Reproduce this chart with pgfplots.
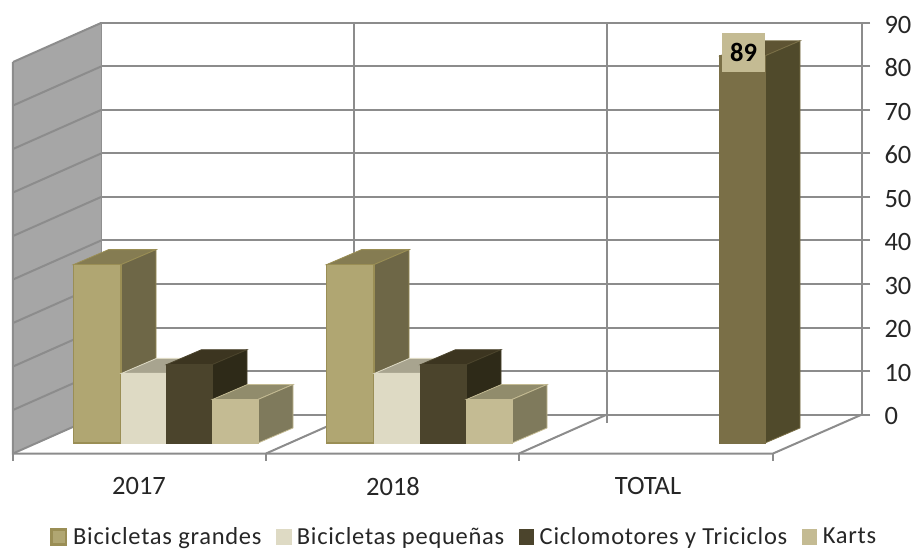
\documentclass[border=0pt]{standalone}
\usepackage{fontspec}
\setmainfont{Carlito}
\newfontfamily\legfont[LetterSpace=3]{Carlito}
\usepackage{pgfplots}
\pgfplotsset{compat=1.18}
\definecolor{gridc}{HTML}{8C8C8C}
\definecolor{wallc}{HTML}{A6A6A6}
\definecolor{txt}{HTML}{262626}
\definecolor{aF}{HTML}{B0A672}\definecolor{aS}{HTML}{6E6747}\definecolor{aT}{HTML}{857C52}\definecolor{aE}{HTML}{9A8E55}
\definecolor{tF}{HTML}{7A6F47}\definecolor{tS}{HTML}{504A2B}\definecolor{tT}{HTML}{5E5433}
\definecolor{bF}{HTML}{DEDAC4}\definecolor{bS}{HTML}{A8A48F}
\definecolor{cF}{HTML}{4B442C}\definecolor{cS}{HTML}{2E2A18}\definecolor{cT}{HTML}{3C3520}
\definecolor{dF}{HTML}{C4BB93}\definecolor{dS}{HTML}{7F7A5C}\definecolor{dT}{HTML}{918C6C}
% bar: x1, x2, value, front, side, top, edge
\newcommand{\barbox}[7]{%
  \pgfmathsetmacro{\yf}{#3-6.55}%
  \pgfmathsetmacro{\yb}{#3-6.55+3.45}%
  \pgfmathsetmacro{\xa}{#1+35}%
  \pgfmathsetmacro{\xb}{#2+35}%
  \pgfmathsetmacro{\yz}{-6.55+3.45}%
  \addplot[forget plot,fill=#6,draw=#7,line width=0.8pt] coordinates {(#1,\yf) (#2,\yf) (\xb,\yb) (\xa,\yb)} --cycle;
  \addplot[forget plot,fill=#5,draw=#7,line width=0.8pt] coordinates {(#2,-6.55) (\xb,\yz) (\xb,\yb) (#2,\yf)} --cycle;
  \addplot[forget plot,fill=#4,draw=#7,line width=1.2pt] coordinates {(#1,-6.55) (#2,-6.55) (#2,\yf) (#1,\yf)} --cycle;
}
\begin{document}
\begin{tikzpicture}
\path[use as bounding box] (0,0) rectangle (915pt,549pt);
\begin{axis}[
  at={(101pt,134.5pt)}, anchor=south west,
  scale only axis, width=761pt, height=391.5pt,
  xmin=101, xmax=862, ymin=0, ymax=90,
  clip=false,
  ytick={0,10,...,90}, xtick={354,607}, xticklabels={},
  ytick pos=right, xtick pos=bottom,
  ymajorgrids, xmajorgrids,
  grid style={gridc,line width=2pt},
  major grid style={gridc,line width=2pt},
  axis line style={gridc,line width=2pt},
  tick style={gridc,line width=2pt},
  major tick length=8pt, tick align=outside,
  /pgf/number format/assume math mode=true,
  yticklabel style={font=\fontsize{26.5}{28}\selectfont,text=txt,xshift=11pt,yshift=-1.5pt},
  legend columns=4,
  legend style={at={(axis cs:50,-28.05)},anchor=west,draw=none,fill=none,inner sep=0pt,
    font=\legfont\fontsize{24.5}{27}\selectfont,text=txt,
    /tikz/every even column/.append style={column sep=12.5pt},
    /tikz/every odd column/.append style={column sep=4pt}},
  legend image code/.code={\draw[#1] (0pt,-8pt) rectangle (14.5pt,7pt);},
]
% walls and floor
\addplot[forget plot,fill=wallc,draw=none] coordinates {(13,-8.97) (13,81.03) (101,90) (101,0)} --cycle;
\pgfplotsinvokeforeach{0,10,...,90}{
  \draw[gridc,line width=2pt] (axis cs:13,{#1-8.97}) -- (axis cs:101,#1);
}
\draw[gridc,line width=2pt] (axis cs:13,81.03) -- (axis cs:13,-8.97) -- (axis cs:773,-8.97) -- (axis cs:862,0);
\draw[gridc,line width=2pt] (axis cs:266,-8.97) -- (axis cs:354,0);
\draw[gridc,line width=2pt] (axis cs:519,-8.97) -- (axis cs:607,0);
\pgfplotsinvokeforeach{13,266,519,773}{
  \draw[gridc,line width=2pt] (axis cs:#1,-8.97) -- (axis cs:#1,-10.7);
}
% Series 1: Bicicletas grandes
\barbox{73.5}{121}{41}{aF}{aS}{aT}{aE}
\barbox{326.5}{374}{41}{aF}{aS}{aT}{aE}
\barbox{720}{765}{89}{tF}{tS}{tT}{tF}
% Series 2: Bicicletas pequeñas
\barbox{121.5}{166}{16}{bF}{bS}{bS}{bF}
\barbox{374.5}{420}{16}{bF}{bS}{bS}{bF}
% Series 3: Ciclomotores y Triciclos
\barbox{166.5}{212}{18}{cF}{cS}{cT}{cF}
\barbox{420.5}{466}{18}{cF}{cS}{cT}{cF}
% Series 4: Karts
\barbox{212.5}{258}{10}{dF}{dS}{dT}{dF}
\barbox{466.5}{512}{10}{dF}{dS}{dT}{dF}
% data label
\node[fill=dF,minimum width=43pt,minimum height=39pt,inner sep=0pt,font=\bfseries\fontsize{26.5}{28}\selectfont,text=black]
  at (axis cs:743.5,83.2) {89};
% category labels
\node[text=txt,font=\fontsize{26.5}{28}\selectfont] at (axis cs:139,-16.5) {2017};
\node[text=txt,font=\fontsize{26.5}{28}\selectfont] at (axis cs:393,-16.5) {2018};
\node[text=txt,font=\fontsize{26.5}{28}\selectfont] at (axis cs:648,-16.5) {TOTAL};
% legend
\addlegendimage{fill=aF,draw=aE,line width=2.5pt}
\addlegendentry{Bicicletas grandes}
\addlegendimage{fill=bF,draw=bF}
\addlegendentry{Bicicletas pequeñas}
\addlegendimage{fill=cF,draw=cF}
\addlegendentry{Ciclomotores y Triciclos}
\addlegendimage{fill=dF,draw=dF}
\addlegendentry{Karts}
\end{axis}
\end{tikzpicture}
\end{document}
